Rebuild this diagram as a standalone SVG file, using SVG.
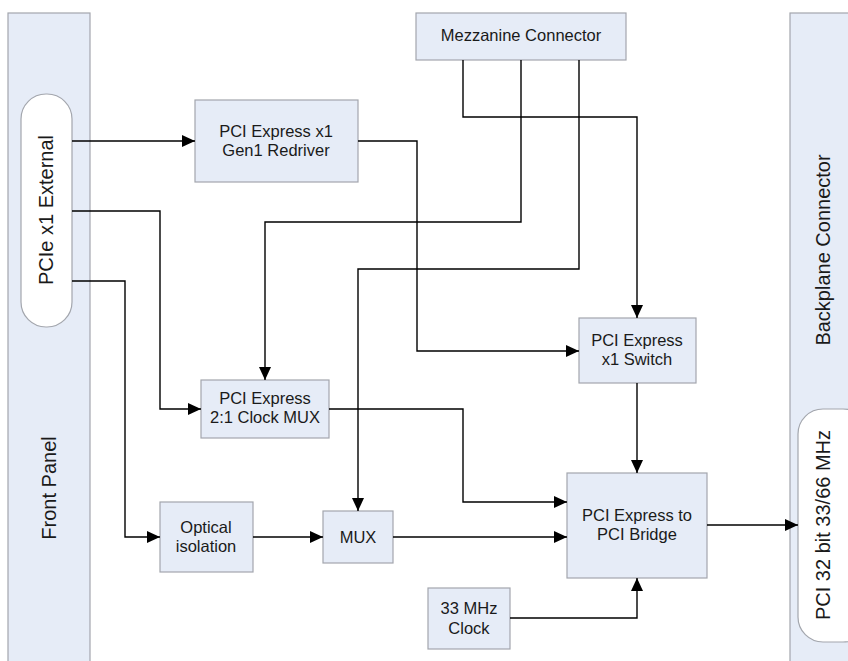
<svg xmlns="http://www.w3.org/2000/svg" width="848" height="661" viewBox="0 0 848 661">
<style>
.box{fill:#E6ECF7;stroke:#A3A6AD;stroke-width:1.2}
.pill{fill:#FFFFFF;stroke:#A3A6AD;stroke-width:1.2}
.t{font-family:"Liberation Sans",Arial,sans-serif;font-size:16.5px;fill:#1a1a1a;text-anchor:middle}
.r{font-size:20px}
.c{fill:none;stroke:#000;stroke-width:1.4}
</style>
<defs>
<marker id="ah" markerUnits="userSpaceOnUse" markerWidth="13" markerHeight="12" refX="13" refY="6" orient="auto">
<path d="M0,0 L13,6 L0,12 z" fill="#000"/>
</marker>
</defs>
<rect width="848" height="661" fill="#fff"/>
<g id="front-panel">
<rect class="box" x="8" y="13" width="82" height="660"/>
<text class="t r" transform="translate(56,488) rotate(-90)">Front Panel</text>
</g>
<g id="pcie-external">
<rect class="pill" x="21" y="94" width="51" height="233" rx="25" ry="25"/>
<text class="t r" transform="translate(53,210) rotate(-90)">PCIe x1 External</text>
</g>
<g id="backplane">
<rect class="box" x="790" y="13" width="70" height="660"/>
<text class="t r" transform="translate(830,250) rotate(-90)">Backplane Connector</text>
</g>
<g id="pci32">
<rect class="pill" x="798" y="409" width="70" height="233" rx="25" ry="25"/>
<text class="t r" transform="translate(830,525) rotate(-90)">PCI 32 bit 33/66 MHz</text>
</g>
<g id="mezzanine">
<rect class="box" x="416" y="13" width="210" height="47"/>
<text class="t" x="521" y="41">Mezzanine Connector</text>
</g>
<g id="redriver">
<rect class="box" x="195" y="100" width="163" height="82"/>
<text class="t" x="276" y="137">PCI Express x1</text>
<text class="t" x="276" y="156">Gen1 Redriver</text>
</g>
<g id="clock-mux">
<rect class="box" x="201" y="380" width="128" height="58"/>
<text class="t" x="265" y="404">PCI Express</text>
<text class="t" x="265" y="423">2:1 Clock MUX</text>
</g>
<g id="switch">
<rect class="box" x="579" y="318" width="117" height="65"/>
<text class="t" x="637" y="346">PCI Express</text>
<text class="t" x="637" y="365">x1 Switch</text>
</g>
<g id="optical">
<rect class="box" x="160" y="502" width="93" height="70"/>
<text class="t" x="206" y="533">Optical</text>
<text class="t" x="206" y="552">isolation</text>
</g>
<g id="mux">
<rect class="box" x="323" y="511" width="70" height="52"/>
<text class="t" x="358" y="543">MUX</text>
</g>
<g id="bridge">
<rect class="box" x="567" y="473" width="140" height="105"/>
<text class="t" x="637" y="521">PCI Express to</text>
<text class="t" x="637" y="540">PCI Bridge</text>
</g>
<g id="clock33">
<rect class="box" x="428" y="588" width="82" height="61"/>
<text class="t" x="469" y="614">33 MHz</text>
<text class="t" x="469" y="634">Clock</text>
</g>
<g id="connectors">
<path class="c" marker-end="url(#ah)" d="M72,141 H195"/>
<path class="c" marker-end="url(#ah)" d="M358,141 H417 V351 H579"/>
<path class="c" marker-end="url(#ah)" d="M72,211 H160 V409 H201"/>
<path class="c" marker-end="url(#ah)" d="M72,281 H125 V537 H160"/>
<path class="c" marker-end="url(#ah)" d="M253,537 H323"/>
<path class="c" marker-end="url(#ah)" d="M521,60 V222 H265 V380"/>
<path class="c" marker-end="url(#ah)" d="M579,60 V269 H358 V511"/>
<path class="c" marker-end="url(#ah)" d="M463,60 V117 H637 V318"/>
<path class="c" marker-end="url(#ah)" d="M329,409 H463 V502 H567"/>
<path class="c" marker-end="url(#ah)" d="M393,537 H567"/>
<path class="c" marker-end="url(#ah)" d="M637,383 V473"/>
<path class="c" marker-end="url(#ah)" d="M510,618 H637 V578"/>
<path class="c" marker-end="url(#ah)" d="M707,525 H798"/>
</g>
</svg>
